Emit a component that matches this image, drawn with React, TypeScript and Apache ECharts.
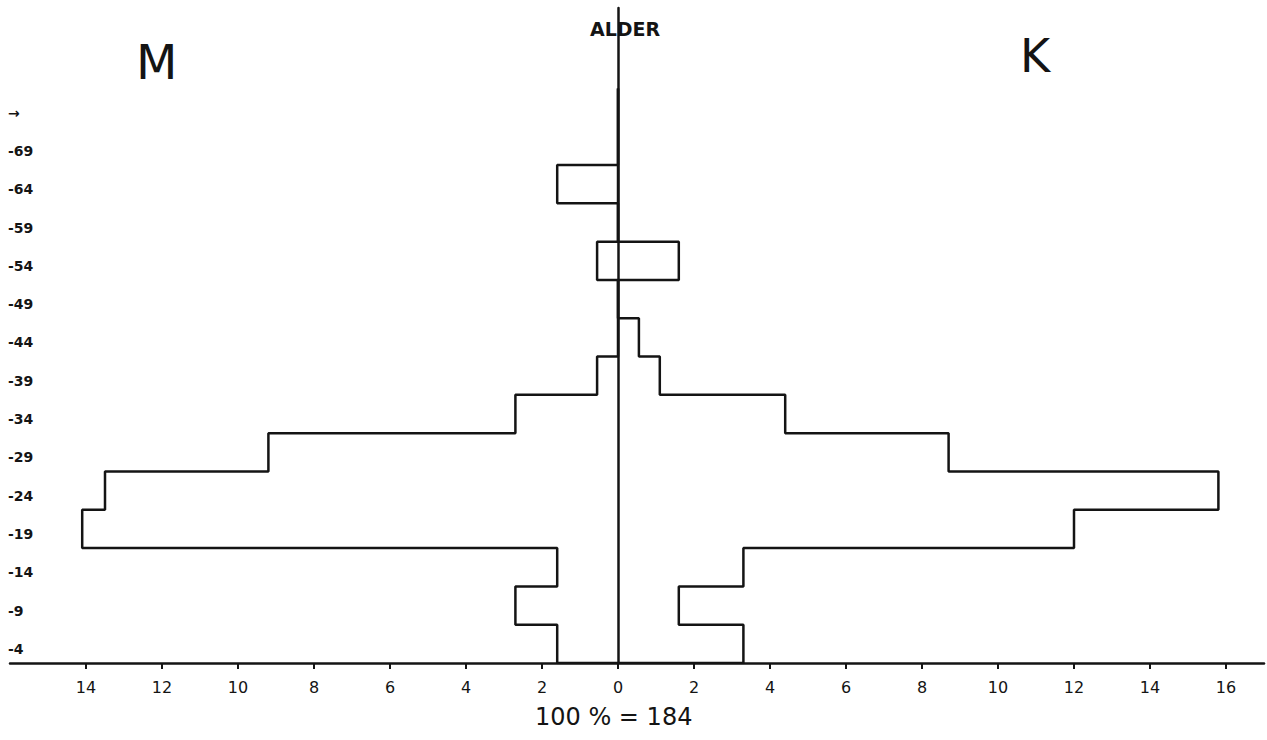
import React, { useEffect, useRef } from 'react';
import * as echarts from 'echarts';

// Age groups, bottom to top (5-year bands)
const ageLabels = ['-4', '-9', '-14', '-19', '-24', '-29', '-34', '-39', '-44', '-49', '-54', '-59', '-64', '-69', '→'];
const bandStarts = [0, 5, 10, 15, 20, 25, 30, 35, 40, 45, 50, 55, 60, 65, 70];
const bandWidth = 5;

// Percent of total (100 % = 184)
const menPct = [1.6, 2.7, 1.6, 14.1, 13.5, 9.2, 2.7, 0.55, 0, 0, 0.55, 0, 1.6, 0, 0];
const womenPct = [3.3, 1.6, 3.3, 12.0, 15.8, 8.7, 4.4, 1.1, 0.55, 0, 1.6, 0, 0, 0, 0];

const xTickValues = [-14, -12, -10, -8, -6, -4, -2, 0, 2, 4, 6, 8, 10, 12, 14, 16];

const INK = '#141414';

function outline(values: number[], sign: number): number[][] {
  const pts: number[][] = [[0, 0]];
  values.forEach((v, i) => {
    const lo = bandStarts[i];
    const hi = lo + bandWidth;
    pts.push([sign * v, lo], [sign * v, hi]);
  });
  pts.push([0, bandStarts[bandStarts.length - 1] + bandWidth]);
  return pts;
}

export default function App() {
  const ref = useRef<HTMLDivElement>(null);

  useEffect(() => {
    if (!ref.current) return;
    const chart = echarts.init(ref.current, undefined, { renderer: 'svg' });
    const gridTop = 8;
    const gridBottom = 77;
    const yMax = 85.5;
    const plotH = 740 - gridTop - gridBottom;
    const bandsTop = 740 - gridBottom - (75 / yMax) * plotH;

    chart.setOption({
      animation: false,
      backgroundColor: '#ffffff',
      grid: [
        { left: 10, right: 3, top: gridTop, bottom: gridBottom },
        { left: 10, right: 3, top: bandsTop + 5, bottom: gridBottom - 5 },
      ],
      xAxis: [
        {
          type: 'value',
          gridIndex: 0,
          min: -16,
          max: 17,
          interval: 2,
          axisLine: { show: true, onZero: true, lineStyle: { color: INK, width: 2.5 } },
          axisTick: { show: true, length: 6, lineStyle: { color: INK, width: 2 }, customValues: xTickValues },
          axisLabel: {
            show: true,
            customValues: xTickValues,
            formatter: (v: number) => String(Math.abs(v)),
            fontSize: 16,
            color: INK,
            margin: 16,
            fontFamily: 'DejaVu Sans',
          },
          splitLine: { show: false },
        },
        { type: 'value', gridIndex: 1, min: 0, max: 1, show: false },
      ],
      yAxis: [
        {
          type: 'value',
          gridIndex: 0,
          min: 0,
          max: yMax,
          axisLine: { show: true, onZero: true, lineStyle: { color: INK, width: 2.5 } },
          axisTick: { show: false },
          axisLabel: { show: false },
          splitLine: { show: false },
        },
        {
          type: 'category',
          gridIndex: 1,
          data: ageLabels,
          boundaryGap: true,
          position: 'left',
          axisLine: { show: false },
          axisTick: { show: false },
          splitLine: { show: false },
          axisLabel: {
            inside: true,
            margin: -2,
            fontSize: 14,
            fontWeight: 'bold',
            color: INK,
            fontFamily: 'DejaVu Sans',
          },
        },
      ],
      series: [
        {
          name: 'M',
          type: 'line',
          xAxisIndex: 0,
          yAxisIndex: 0,
          data: outline(menPct, -1),
          symbol: 'none',
          lineStyle: { color: INK, width: 2.5 },
          z: 3,
        },
        {
          name: 'K',
          type: 'line',
          xAxisIndex: 0,
          yAxisIndex: 0,
          data: outline(womenPct, 1),
          symbol: 'none',
          lineStyle: { color: INK, width: 2.5 },
          z: 3,
        },
      ],
      graphic: [
        {
          type: 'text',
          left: 136,
          top: 38,
          style: { text: 'M', fontSize: 48, fill: INK, fontFamily: 'DejaVu Sans', fontWeight: 'normal' },
        },
        {
          type: 'text',
          left: 1020,
          top: 33,
          style: { text: 'K', fontSize: 46, fill: INK, fontFamily: 'DejaVu Sans', fontWeight: 'normal' },
        },
        {
          type: 'text',
          left: 590,
          top: 19,
          style: { text: 'ALDER', fontSize: 19, fontWeight: 'bold', fill: INK, fontFamily: 'DejaVu Sans' },
        },
        {
          type: 'text',
          left: 535,
          top: 705,
          style: { text: '100 % = 184', fontSize: 24, fill: INK, fontFamily: 'DejaVu Sans' },
        },
      ],
    });

    return () => chart.dispose();
  }, []);

  return (
    <div
      ref={ref}
      style={{ position: 'fixed', left: 0, top: 0, width: 1267, height: 740, background: '#fff' }}
    />
  );
}
